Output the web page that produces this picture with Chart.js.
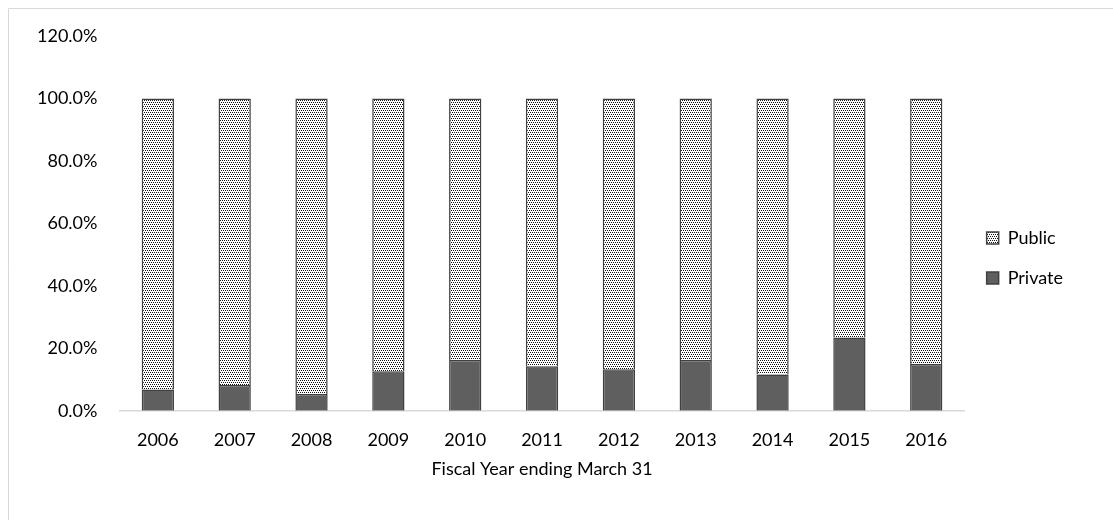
<!DOCTYPE html>
<html>
<head>
<meta charset="utf-8">
<script src="https://cdn.jsdelivr.net/npm/chart.js@4/dist/chart.umd.min.js"></script>
<style>
 body { margin: 0; background: #fff; }
 #wrap { position: absolute; left: 0; top: 0; width: 1113px; height: 520px; }
</style>
</head>
<body>
<div id="wrap"><canvas id="barChart" width="1113" height="520"></canvas></div>
<script>
var years = ["2006", "2007", "2008", "2009", "2010", "2011", "2012", "2013", "2014", "2015", "2016"];
var privateShare = [6.8, 8.3, 5.4, 12.7, 16.3, 14.3, 13.3, 16.3, 11.6, 23.5, 15.0];
var publicShare = [93.2, 91.7, 94.6, 87.3, 83.7, 85.7, 86.7, 83.7, 88.4, 76.5, 85.0];
var xTitle = "Fiscal Year ending March 31";

// dotted fill like the excel pattern
function dots() {
 var c = document.createElement("canvas");
 c.width = 4; c.height = 4;
 var g = c.getContext("2d");
 g.fillStyle = "#fff";
 g.fillRect(0, 0, 4, 4);
 g.fillStyle = "#111";
 g.fillRect(0, 0, 1, 1);
 g.fillRect(2, 0, 1, 1);
 g.fillRect(1, 2, 1, 1);
 g.fillRect(3, 2, 1, 1);
 return g.createPattern(c, "repeat");
}

var frame = {
 id: "frame",
 beforeDraw: function(chart) {
  var ctx = chart.ctx;
  ctx.save();
  ctx.strokeStyle = "#d9d9d9";
  ctx.lineWidth = 1;
  ctx.beginPath();
  ctx.moveTo(8.5, 520);
  ctx.lineTo(8.5, 8.5);
  ctx.lineTo(1113, 8.5);
  ctx.stroke();
  ctx.restore();
 }
};

Chart.defaults.font.family = "Lato, 'Open Sans', sans-serif";
Chart.defaults.font.size = 18;
Chart.defaults.color = "#000";

var myChart = new Chart(document.getElementById("barChart"), {
 type: 'bar',
 data: {
  labels: years,
  datasets: [
  {
   label: "Private",
   data: privateShare,
   backgroundColor: "#5f5f5f",
   borderColor: "#404040",
   borderWidth: 1.5,
   barPercentage: 0.42,
   categoryPercentage: 1
  },
  {
   label: "Public",
   data: publicShare,
   backgroundColor: dots(),
   borderColor: "#404040",
   borderWidth: 1.5,
   barPercentage: 0.42,
   categoryPercentage: 1
  }]
 },
 options: {
  responsive: false,
  maintainAspectRatio: false,
  animation: false,
  layout: { padding: { left: 15, top: 36, right: 40, bottom: 40 } },
  plugins: {
   legend: {
    position: 'right',
    reverse: true,
    labels: { boxWidth: 12, boxHeight: 12, padding: 22 }
   },
   tooltip: { enabled: false }
  },
  scales: {
   x: {
    stacked: true,
    grid: { display: false, drawTicks: false },
    border: { color: "#d9d9d9", width: 1.5 },
    ticks: { padding: 19 },
    title: { display: true, text: xTitle, padding: { top: -12, bottom: 0 } }
   },
   y: {
    stacked: true,
    min: 0,
    max: 120,
    grid: { display: false, drawTicks: false },
    border: { display: false },
    ticks: {
     stepSize: 20,
     padding: 22,
     callback: function(v) { return v.toFixed(1) + "%"; }
    }
   }
  }
 },
 plugins: [frame]
});
</script>
</body>
</html>
